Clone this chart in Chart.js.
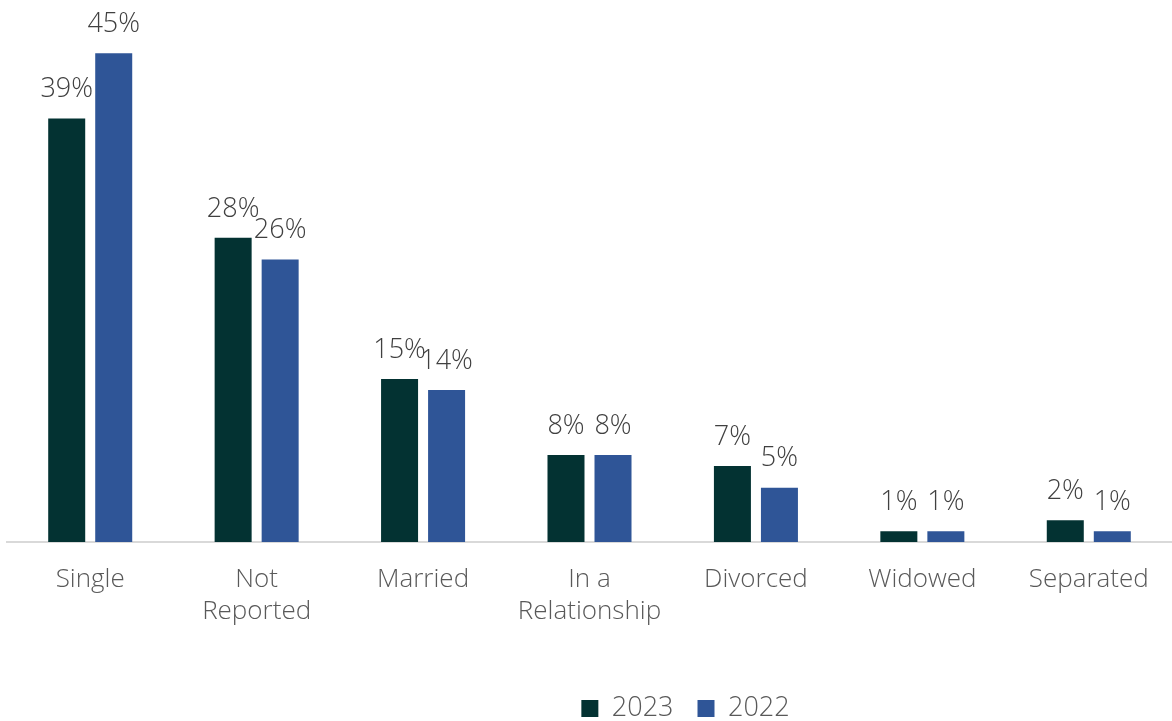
<!DOCTYPE html>
<html>
<head>
<meta charset="utf-8">
<script src="https://cdn.jsdelivr.net/npm/chart.js@4"></script>
<style>
    html, body { margin: 0; padding: 0; background: #fff; }
    #wrap { width: 1172px; height: 721px; }
</style>
</head>
<body>
<div id="wrap"><canvas id="status"></canvas></div>
<script>
const categories = ['Single', ['Not', 'Reported'], 'Married', ['In a', 'Relationship'], 'Divorced', 'Widowed', 'Separated'];
const values2023 = [39, 28, 15, 8, 7, 1, 2];
const values2022 = [45, 26, 14, 8, 5, 1, 1];
const seriesNames = ['2023', '2022'];

const FONT = '"Open Sans", Lato, sans-serif';

// percent labels above each bar
const barLabels = {
    id: 'barLabels',
    afterDatasetsDraw(chart) {
        const ctx = chart.ctx;
        ctx.save();
        ctx.font = '300 27px ' + FONT;
        ctx.fillStyle = '#404040';
        ctx.textAlign = 'center';
        ctx.textBaseline = 'middle';
        chart.data.datasets.forEach((ds, i) => {
            chart.getDatasetMeta(i).data.forEach((bar, j) => {
                ctx.fillText(ds.data[j] + '%', bar.x, bar.y - 29);
            });
        });
        ctx.restore();
    }
};

// nudge the legend a bit right of centre
const legendShift = {
    id: 'legendShift',
    afterLayout(chart) {
        chart.legend.left += 192;
    }
};

new Chart(document.getElementById('status'), {
    type: 'bar',
    data: {
        labels: categories,
        datasets: [{
            label: seriesNames[0],
            data: values2023,
            backgroundColor: '#033232'
        }, {
            label: seriesNames[1],
            data: values2022,
            backgroundColor: '#2F5597'
        }]
    },
    options: {
        responsive: true,
        maintainAspectRatio: false,
        animation: false,
        layout: {
            padding: { left: 7, right: 0, top: 0, bottom: -11 }
        },
        datasets: {
            bar: {
                categoryPercentage: 0.565,
                barPercentage: 0.787
            }
        },
        plugins: {
            legend: {
                position: 'bottom',
                labels: {
                    boxWidth: 17,
                    boxHeight: 17,
                    padding: 24,
                    color: '#595959',
                    font: { family: FONT, size: 27, weight: '300' }
                }
            },
            tooltip: { enabled: false }
        },
        scales: {
            x: {
                grid: { display: false },
                border: { color: '#d9d9d9', width: 2 },
                ticks: {
                    color: '#595959',
                    padding: 13,
                    font: { family: FONT, size: 26, weight: '300', lineHeight: 1.25 },
                    maxRotation: 0
                },
                // leave room between the category names and the legend
                afterFit(scale) {
                    scale.height += 30;
                }
            },
            y: {
                display: false,
                min: 0,
                max: 49.9
            }
        }
    },
    plugins: [barLabels, legendShift]
});
</script>
</body>
</html>
